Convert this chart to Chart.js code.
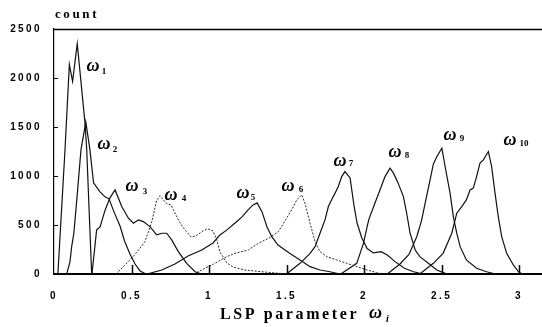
<!DOCTYPE html>
<html>
<head>
<meta charset="utf-8">
<script src="https://cdn.jsdelivr.net/npm/chart.js@4/dist/chart.umd.min.js"></script>
<style>
  html, body { margin: 0; padding: 0; background: #fff; }
  #wrap { width: 542px; height: 327px; position: relative; }
</style>
</head>
<body>
<div id="wrap"><canvas id="c" width="542" height="327"></canvas></div>
<script>
// ---- data ----
const xTickValues = [0, 0.5, 1, 1.5, 2, 2.5, 3];
const yTickValues = [0, 500, 1000, 1500, 2000, 2500];
const seriesNames = ['ω1','ω2','ω3','ω4','ω5','ω6','ω7','ω8','ω9','ω10'];

const w1x = [0.025, 0.071, 0.099, 0.12, 0.15, 0.2, 0.211, 0.243];
const w1y = [0, 1267, 2136, 1965, 2350, 1540, 1267, 0];

const w2x = [0.082, 0.103, 0.114, 0.128, 0.147, 0.174, 0.205, 0.232, 0.239, 0.255, 0.297, 0.329, 0.355, 0.387, 0.426, 0.455, 0.49, 0.523, 0.555, 0.594];
const w2y = [0, 123, 279, 416, 756, 1267, 1553, 1267, 1165, 930, 838, 787, 767, 634, 490, 337, 204, 102, 31, 0];

const w3x = [0.245, 0.275, 0.297, 0.33, 0.361, 0.394, 0.437, 0.48, 0.512, 0.544, 0.576, 0.619, 0.662, 0.695, 0.727, 0.759, 0.802, 0.856, 0.91, 0.953];
const w3y = [0, 450, 480, 654, 777, 858, 688, 569, 518, 552, 535, 484, 399, 416, 416, 348, 228, 109, 23, 0];

const w4x = [0.40, 0.458, 0.52, 0.587, 0.63, 0.662, 0.684, 0.703, 0.729, 0.755, 0.78, 0.813, 0.845, 0.884, 0.916, 0.961, 0.994, 1.026, 1.05, 1.07, 1.116, 1.155, 1.23, 1.36, 1.5];
const w4y = [0, 92, 194, 330, 530, 750, 800, 760, 715, 705, 623, 521, 450, 378, 388, 440, 460, 440, 348, 225, 112, 72, 41, 20, 0];

const w5x = [0.6, 0.695, 0.78, 0.865, 0.953, 1.026, 1.07, 1.116, 1.168, 1.213, 1.252, 1.284, 1.31, 1.342, 1.374, 1.406, 1.445, 1.49, 1.52, 1.587, 1.652, 1.716, 1.78, 1.845];
const w5y = [0, 41, 102, 184, 245, 317, 399, 450, 521, 583, 654, 705, 726, 634, 480, 378, 296, 245, 211, 143, 75, 41, 23, 0];

const w6x = [0.9, 1.03, 1.114, 1.168, 1.254, 1.318, 1.383, 1.447, 1.5, 1.533, 1.566, 1.598, 1.619, 1.652, 1.684, 1.716, 1.76, 1.824, 1.888, 1.953, 2.02, 2.08, 2.12];
const w6y = [0, 102, 177, 211, 245, 313, 364, 430, 569, 654, 756, 808, 722, 518, 330, 228, 177, 143, 109, 75, 41, 14, 0];

const w7x = [1.5, 1.587, 1.652, 1.684, 1.716, 1.748, 1.77, 1.79, 1.813, 1.834, 1.856, 1.877, 1.91, 1.935, 1.955, 1.985, 2.02, 2.06, 2.11, 2.15, 2.2, 2.26, 2.32, 2.38];
const w7y = [0, 109, 211, 279, 416, 552, 688, 756, 825, 893, 994, 1045, 980, 700, 520, 370, 260, 215, 228, 194, 126, 58, 23, 0];

const w8x = [1.85, 1.953, 1.996, 2.03, 2.07, 2.103, 2.135, 2.168, 2.19, 2.22, 2.254, 2.275, 2.297, 2.33, 2.36, 2.415, 2.47, 2.51, 2.54];
const w8y = [0, 109, 313, 552, 722, 858, 994, 1080, 1029, 927, 790, 620, 416, 245, 177, 109, 41, 14, 0];

const w9x = [2.15, 2.23, 2.29, 2.34, 2.37, 2.394, 2.426, 2.447, 2.47, 2.502, 2.523, 2.555, 2.576, 2.598, 2.62, 2.66, 2.726, 2.79, 2.85];
const w9y = [0, 100, 200, 380, 540, 720, 960, 1120, 1199, 1284, 1097, 825, 586, 416, 279, 143, 58, 23, 0];

const w10x = [2.36, 2.447, 2.51, 2.566, 2.598, 2.63, 2.66, 2.684, 2.705, 2.726, 2.748, 2.77, 2.802, 2.823, 2.845, 2.866, 2.888, 2.92, 2.963, 2.997, 3.02];
const w10y = [0, 109, 211, 416, 620, 688, 756, 858, 876, 994, 1131, 1165, 1250, 1097, 825, 586, 381, 211, 92, 23, 0];

const allX = [w1x, w2x, w3x, w4x, w5x, w6x, w7x, w8x, w9x, w10x];
const allY = [w1y, w2y, w3y, w4y, w5y, w6y, w7y, w8y, w9y, w10y];
const dottedSeries = [3, 5]; // ω4, ω6 drawn dotted

// ---- build datasets ----
const datasets = allX.map((xs, i) => ({
  label: seriesNames[i],
  data: xs.map((x, j) => ({ x: x, y: allY[i][j] })),
  borderColor: dottedSeries.includes(i) ? '#2a2a2a' : '#111',
  borderWidth: dottedSeries.includes(i) ? 1 : 1.2,
  borderDash: dottedSeries.includes(i) ? [2, 1.5] : [],
  pointRadius: 0,
  tension: 0,
  fill: false
}));

// ---- annotation plugin: frame, inner ticks, titles, ω labels ----
const seriesLabels = [
  { t: '1',  x: 93,  y: 66,  sx: 104, sy: 72 },
  { t: '2',  x: 104, y: 144, sx: 115, sy: 150 },
  { t: '3',  x: 132, y: 186, sx: 145, sy: 192 },
  { t: '4',  x: 171, y: 195, sx: 184, sy: 199 },
  { t: '5',  x: 243, y: 193, sx: 253, sy: 198 },
  { t: '6',  x: 288, y: 186, sx: 301, sy: 190 },
  { t: '7',  x: 340, y: 161, sx: 351, sy: 164 },
  { t: '8',  x: 395, y: 152, sx: 407, sy: 156 },
  { t: '9',  x: 450, y: 135, sx: 462, sy: 139 },
  { t: '10', x: 510, y: 140, sx: 524, sy: 144 }
];

const deco = {
  id: 'deco',
  beforeDraw(chart) {
    chart.ctx.letterSpacing = '2.4px';
  },
  afterDraw(chart) {
    const ctx = chart.ctx;
    const a = chart.chartArea;
    const xs = chart.scales.x, ys = chart.scales.y;
    ctx.save();
    ctx.letterSpacing = '0px';
    ctx.strokeStyle = '#000';
    // top frame
    ctx.lineWidth = 1.5;
    ctx.beginPath();
    ctx.moveTo(a.left, a.top + 0.5); ctx.lineTo(a.right, a.top + 0.5);
    ctx.stroke();
    // inner y ticks
    ctx.lineWidth = 1;
    yTickValues.forEach(v => {
      const py = Math.round(ys.getPixelForValue(v)) + 0.5;
      ctx.beginPath(); ctx.moveTo(a.left, py); ctx.lineTo(a.left + 4, py); ctx.stroke();
    });
    // inner x ticks
    ctx.lineWidth = 1.5;
    xTickValues.slice(1).forEach(v => {
      const px = Math.round(xs.getPixelForValue(v)) + 0.5;
      ctx.beginPath(); ctx.moveTo(px, a.bottom); ctx.lineTo(px, a.bottom - 9); ctx.stroke();
    });
    ctx.fillStyle = '#000';
    // "count"
    ctx.font = 'bold 13px "Liberation Serif"';
    ctx.letterSpacing = '2.6px';
    ctx.textAlign = 'left'; ctx.textBaseline = 'middle';
    ctx.fillText('count', 55, 15);
    // x title
    ctx.font = 'bold 16px "Liberation Serif"';
    ctx.letterSpacing = '2.6px';
    ctx.fillText('LSP parameter', 220, 315);
    ctx.letterSpacing = '0px';
    ctx.font = 'bold italic 18px "Liberation Serif"';
    ctx.fillText('ω', 369, 313);
    ctx.font = 'bold italic 10px "Liberation Serif"';
    ctx.fillText('i', 386, 319);
    // series labels
    seriesLabels.forEach(l => {
      ctx.textAlign = 'center';
      ctx.font = 'bold italic 18px "Liberation Serif"';
      ctx.fillText('ω', l.x, l.y);
      ctx.font = 'bold 9px "Liberation Serif"';
      ctx.fillText(l.t, l.sx, l.sy);
    });
    ctx.restore();
  }
};

new Chart(document.getElementById('c'), {
  type: 'line',
  data: { datasets },
  options: {
    responsive: false,
    animation: false,
    events: [],
    layout: { padding: { top: 29, right: 0, left: 0, bottom: 0 } },
    plugins: { legend: { display: false }, tooltip: { enabled: false }, title: { display: false } },
    scales: {
      x: {
        type: 'linear',
        min: 0,
        max: 3.148,
        afterBuildTicks: s => { s.ticks = xTickValues.map(v => ({ value: v })); },
        afterFit: s => { s.height = 53; },
        grid: { display: false, drawTicks: false },
        border: { display: true, color: '#000', width: 2 },
        ticks: {
          color: '#000',
          padding: 16,
          maxRotation: 0,
          callback: v => String(v),
          font: { family: '"Liberation Sans", Arial, sans-serif', size: 10, weight: 'bold' }
        }
      },
      y: {
        type: 'linear',
        min: 0,
        max: 2500,
        afterBuildTicks: s => { s.ticks = yTickValues.map(v => ({ value: v })); },
        afterFit: s => { s.width = 54; },
        grid: { display: false, drawTicks: false },
        border: { display: true, color: '#000', width: 1.2 },
        ticks: {
          color: '#000',
          padding: 12,
          callback: v => String(v),
          font: { family: '"Liberation Sans", Arial, sans-serif', size: 10, weight: 'bold' }
        }
      }
    }
  },
  plugins: [deco]
});
</script>
</body>
</html>
